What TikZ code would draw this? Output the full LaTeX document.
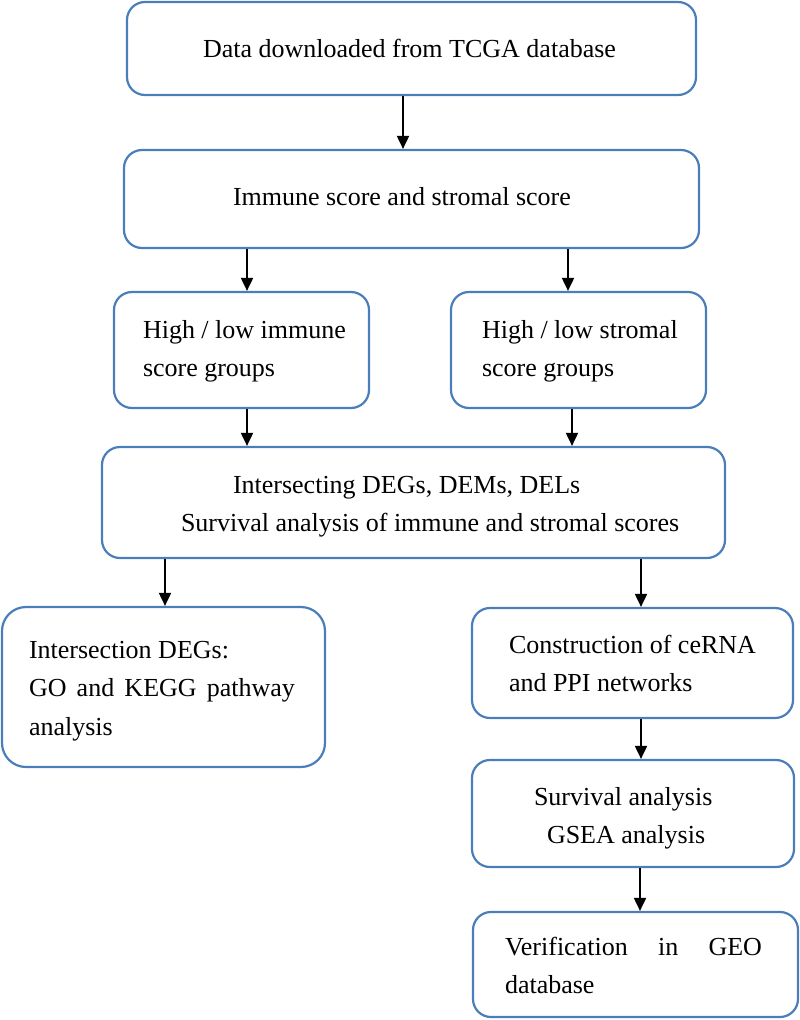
\documentclass[tikz,border=0pt]{standalone}
\usepackage{fontspec}
\setmainfont{Liberation Serif}
\definecolor{BOXblue}{HTML}{4A7EBB}
\usetikzlibrary{arrows.meta, positioning}
\newcommand{\ind}[1]{\spaceskip=0pt\xspaceskip=0pt\hspace*{#1pt}}

\begin{document}
\begin{tikzpicture}[x=1pt, y=-1pt,
    stepbox/.style={draw=BOXblue, line width=2.2pt, rounded corners=18pt,
        inner sep=0pt, align=left, text height=18pt,
        font=\fontsize{26}{38.5}\selectfont},
    flow/.style={-{Triangle[length=13pt, width=12pt]}, line width=1.9pt}]
    \useasboundingbox (0,0) rectangle (800,1020);
    % Top row
    \node[stepbox, minimum width=569pt, minimum height=93pt, text width=569pt,
        text depth=1pt] (data) at (411.5,48.5)
        {\ind{76}Data downloaded from TCGA database};
    \node[stepbox, minimum width=575pt, minimum height=98pt, text width=575pt,
        text depth=6pt] (score) at (411.5,199)
        {\ind{109}Immune score and stromal score};
    % Groups
    \node[stepbox, minimum width=255pt, minimum height=116pt, text width=255pt,
        text depth=42pt] (immune) at (241.5,350)
        {\ind{29}High / low immune\\\ind{29}score groups};
    \node[stepbox, minimum width=255pt, minimum height=116pt, text width=255pt,
        text depth=42pt] (stromal) at (578.5,350)
        {\ind{31}High / low stromal\\\ind{31}score groups};
    % Intersection
    \node[stepbox, minimum width=623pt, minimum height=111pt, text width=623pt,
        text depth=37pt] (inter) at (413.5,502.5)
        {\ind{131}Intersecting DEGs, DEMs, DELs\\\ind{79}Survival analysis of immune and stromal scores};
    % Left branch
    \node[stepbox, rounded corners=24pt, minimum width=323pt, minimum height=160pt,
        text width=323pt, text depth=76pt] (go) at (163.5,687)
        {\ind{27}Intersection DEGs:\\\ind{27}\makebox[266pt]{GO\hfill and\hfill KEGG\hfill pathway}\\\ind{27}analysis};
    % Right branch
    \node[stepbox, minimum width=321pt, minimum height=110pt, text width=321pt,
        text depth=38pt] (cerna) at (632.5,663)
        {\ind{37}Construction of ceRNA\\\ind{37}and PPI networks};
    \node[stepbox, minimum width=322pt, minimum height=107pt, text width=322pt,
        text depth=35pt] (gsea) at (633,813.5)
        {\ind{62}Survival analysis\\\ind{75}GSEA analysis};
    \node[stepbox, minimum width=325pt, minimum height=105pt, text width=325pt,
        text depth=37pt] (geo) at (635.5,964.5)
        {\ind{32}\makebox[257pt]{Verification\hfill in\hfill GEO}\\\ind{32}database};
    % Arrows
    \draw[flow] ([xshift=-8.5pt]data.south) -- ([xshift=-8.5pt]data.south |- score.north);
    \draw[flow] ([xshift=5.5pt]immune.north |- score.south) -- ([xshift=5.5pt]immune.north);
    \draw[flow] ([xshift=-10.5pt]stromal.north |- score.south) -- ([xshift=-10.5pt]stromal.north);
    \draw[flow] ([xshift=5.5pt]immune.south) -- ([xshift=5.5pt]immune.south |- inter.north);
    \draw[flow] ([xshift=-6.5pt]stromal.south) -- ([xshift=-6.5pt]stromal.south |- inter.north);
    \draw[flow] ([xshift=1.5pt]go.north |- inter.south) -- ([xshift=1.5pt]go.north);
    \draw[flow] ([xshift=8.5pt]cerna.north |- inter.south) -- ([xshift=8.5pt]cerna.north);
    \draw[flow] ([xshift=8.5pt]cerna.south) -- ([xshift=8.5pt]cerna.south |- gsea.north);
    \draw[flow] ([xshift=7pt]gsea.south) -- ([xshift=7pt]gsea.south |- geo.north);
\end{tikzpicture}
\end{document}
